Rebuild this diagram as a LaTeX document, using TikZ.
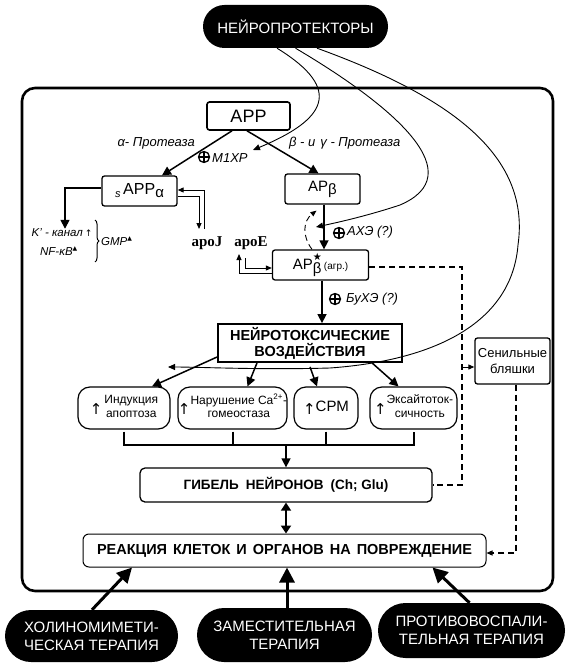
\documentclass[tikz,border=0pt]{standalone}
\usepackage{fontspec}
\setmainfont{Liberation Sans}
\newfontfamily\serifbf{Liberation Serif}
\newfontfamily\symf{DejaVu Sans}
\usetikzlibrary{arrows.meta,decorations.pathreplacing,calc}
\newcommand{\myup}{\raisebox{-3pt}{{\symf\fontsize{15}{15}\selectfont ↑}}}
\begin{document}
\begin{tikzpicture}[x=1pt,y=-1pt,
  every node/.style={inner sep=0pt},
  box/.style={draw,line width=1.3pt,rounded corners=2.5pt},
  rbox/.style={draw,line width=1.2pt,rounded corners=12pt,font=\fontsize{12}{13.5}\selectfont},
  pill/.style={fill=black,text=white,align=center,font=\fontsize{15}{18}\selectfont},
  arr/.style={line width=1.5pt,-{Triangle[length=9pt,width=9pt]}},
  tarr/.style={line width=1pt,-{Triangle[length=6pt,width=5pt]}},
  cur/.style={line width=0.9pt,-{Triangle[length=7pt,width=6pt]}},
  dline/.style={dash pattern=on 6pt off 4pt,line width=1.1pt},
  bigarr/.style={line width=3pt,-{Triangle[length=15pt,width=15pt]}},
  lab/.style={font=\itshape\fontsize{13}{14}\selectfont},
  slab/.style={font=\itshape\fontsize{11.5}{13}\selectfont},
  oplus/.style={circle,draw,line width=1.3pt,minimum size=11pt,inner sep=0pt,
    path picture={\draw[line width=1.3pt] (path picture bounding box.north) -- (path picture bounding box.south) (path picture bounding box.west) -- (path picture bounding box.east);}}
]
\useasboundingbox (0,0) rectangle (572,663);
\draw[line width=2.6pt,rounded corners=13pt] (22,88) rectangle (553,591);

% top pill
\node[pill,minimum width=185pt,minimum height=43pt,rounded corners=21.5pt] (np) at (295.5,26.5) {НЕЙРОПРОТЕКТОРЫ};

% boxes
\node[box,line width=1.6pt,minimum width=83pt,minimum height=28pt,font=\fontsize{18}{18}\selectfont] (app) at (248.5,116) {APP};
\node[box,minimum width=75pt,minimum height=30pt,font=\fontsize{16}{16}\selectfont] (sapp) at (139.5,191) {\raisebox{-3pt}{\fontsize{11}{11}\selectfont\itshape s}\,APP\raisebox{-3pt}{\fontsize{15}{15}\selectfont α}};
\node[box,minimum width=75pt,minimum height=30pt,font=\fontsize{15}{15}\selectfont] (apb) at (322.5,189) {AP\raisebox{-3pt}{β}};
\node[box,minimum width=96pt,minimum height=30pt,font=\fontsize{15}{15}\selectfont] (aps) at (320.5,265) {AP\rlap{\raisebox{9.5pt}{\symf\fontsize{10}{10}\selectfont ★}}\raisebox{-4pt}{β}\,{\fontsize{10}{10}\selectfont(агр.)}};
\node[draw,line width=1.8pt,minimum width=184pt,minimum height=38pt,align=center,font=\bfseries\fontsize{14.5}{16}\selectfont] (nt) at (310,343) {НЕЙРОТОКСИЧЕСКИЕ\\ВОЗДЕЙСТВИЯ};
\node[box,minimum width=75pt,minimum height=46pt,align=center,font=\fontsize{13}{16}\selectfont] (sen) at (512.5,361) {Сенильные\\бляшки};

\node[rbox,minimum width=92pt,minimum height=42pt] (ind) at (124,408) {\myup\,\begin{tabular}{@{}c@{}}Индукция\\апоптоза\end{tabular}};
\node[rbox,minimum width=109pt,minimum height=42pt] (nar) at (232.5,408) {\myup\begin{tabular}{@{}c@{}}Нарушение Ca\textsuperscript{2+}-\\гомеостаза\end{tabular}};
\node[rbox,minimum width=64pt,minimum height=42pt,font=\fontsize{15}{15}\selectfont] (srm) at (326,408) {\myup СРМ};
\node[rbox,minimum width=87pt,minimum height=42pt] (eks) at (413.5,408) {\myup\begin{tabular}{@{}c@{}}Эксайтоток-\\сичность\end{tabular}};

\node[box,rounded corners=5pt,minimum width=292pt,minimum height=34pt,font=\bfseries\fontsize{13.5}{14}\selectfont] (gib) at (286,485) {ГИБЕЛЬ\hspace{7pt}НЕЙРОНОВ\hspace{7pt}(Ch; Glu)};
\node[draw,line width=1pt,rounded corners=6pt,minimum width=403pt,minimum height=33pt,font=\bfseries\fontsize{14.5}{16}\selectfont] (reak) at (284.5,550.5) {РЕАКЦИЯ\hspace{6pt}КЛЕТОК\hspace{6pt}И\hspace{6pt}ОРГАНОВ\hspace{6pt}НА\hspace{6pt}ПОВРЕЖДЕНИЕ};

\node[pill,minimum width=173pt,minimum height=52pt,rounded corners=26pt] (p1) at (91.5,636) {ХОЛИНОМИМЕТИ-\\ЧЕСКАЯ ТЕРАПИЯ};
\node[pill,minimum width=175pt,minimum height=54pt,rounded corners=27pt] (p2) at (284.5,635) {ЗАМЕСТИТЕЛЬНАЯ\\ТЕРАПИЯ};
\node[pill,minimum width=187pt,minimum height=55pt,rounded corners=27.5pt] (p3) at (471.5,630.5) {ПРОТИВОВОСПАЛИ-\\ТЕЛЬНАЯ ТЕРАПИЯ};

% labels
\node[lab,anchor=east] (lalpha) at (195,143) {α- Протеаза};
\node[oplus] (op1) at (204,157) {};
\node[lab,anchor=west] (lm1) at (212,158) {М1ХР};
\node[lab,anchor=west] (lbeta) at (289,143) {β - и\hspace{5pt}γ - Протеаза};
\node[oplus] (op2) at (339,233) {};
\node[lab,anchor=west] (lax) at (347,232) {АХЭ (?)};
\node[oplus] (op3) at (335,299) {};
\node[lab,anchor=west] (lbu) at (346,299) {БуХЭ (?)};

\node[slab] (kk) at (62,233) {K' - канал\,{\symf\fontsize{9}{9}\selectfont ↑}};
\node[slab] (nf) at (59,251) {NF-κB\textsuperscript{\symf\fontsize{6}{6}\selectfont ▲}};
\draw[decorate,decoration={brace,amplitude=4pt},line width=1pt] (95,220) -- (95,262);
\node[slab,anchor=west] (gmp) at (101,241) {GMP\textsuperscript{\symf\fontsize{6}{6}\selectfont ▲}};

\node[font=\serifbf\bfseries\fontsize{15}{15}\selectfont] (apoj) at (207,243) {apoJ};
\node[font=\serifbf\bfseries\fontsize{15}{15}\selectfont] (apoe) at (251,243) {apoE};

% coordinates
\coordinate (jA) at (204,229);
\coordinate (jB) at (199,229);
\coordinate (eA) at (239,254);
\coordinate (eB) at (245,258);
\coordinate (m1tip) at (253,150);
\coordinate (axtip) at (316,227);
\coordinate (nttip) at (168,367);
\coordinate (dv) at (462,0);
\coordinate (bk) at (0,445);
\coordinate (senin) at ([yshift=-6pt]sen.west);

% main arrows
\draw[arr] ([xshift=-16.5pt]app.south) -- ([xshift=22.5pt]sapp.north);
\draw[arr] ([xshift=-1.5pt]app.south) -- ([xshift=-4pt]apb.north);
\draw[arr] ([yshift=3pt]sapp.west) -| ([xshift=3pt]kk.north);
\draw[tarr] (jA) |- ([yshift=1pt]sapp.east);
\draw[tarr] ([yshift=-5pt]sapp.east) -| (jB);
\draw[tarr] ([yshift=-8pt]aps.west) -| (eA);
\draw[tarr] (eB) |- ([yshift=-3pt]aps.west);
\draw[arr] ([xshift=1.5pt]apb.south) -- ([xshift=3.5pt]aps.north);
\draw[dline,line width=0.9pt,-{Triangle[length=6pt,width=5pt]}] ([xshift=-8.5pt]aps.north) .. controls (302,236) and (303,221) .. ([xshift=-6pt,yshift=-6pt]apb.south);
\draw[arr] ([xshift=1.5pt]aps.south) -- ([xshift=12pt]nt.north);

% dashed
\draw[dline] ([yshift=-2pt]aps.east) -| (dv |- gib.east) -- (gib.east);
\draw[tarr] (dv |- senin) -- (senin);
\draw[dline,-{Triangle[length=6pt,width=5pt]}] ([xshift=3.5pt]sen.south) |- ([yshift=-2.5pt]reak.east);

% curves from neuroprotectors
\draw[cur] ([xshift=-18.5pt]np.south) .. controls (345,90) and (325,120) .. (m1tip);
\draw[cur] (np.south) .. controls (400,110) and (470,175) .. (400,205) .. controls (370,215) and (340,222) .. (axtip);
\draw[cur] ([xshift=21.5pt]np.south) .. controls (460,100) and (530,160) .. (518,245) .. controls (512,320) and (440,360) .. (330,368) .. controls (260,370) and (200,367) .. (nttip);

% neurotoxic effects
\draw[arr] ([yshift=-14pt]nt.west) -- ([xshift=28pt]ind.north);
\draw[arr] ([xshift=-53pt]nt.south) -- ([xshift=15pt]nar.north);
\draw[arr] ([yshift=-4pt]nt.south) -- ([xshift=-9pt]srm.north);
\draw[arr] ([xshift=62pt]nt.south) -- ([xshift=-15pt]eks.north);

% bracket
\draw[line width=2pt] ([yshift=-2pt]ind.south) -- (ind.south |- bk) -- (eks.south |- bk) -- ([yshift=-2pt]eks.south);
\draw[line width=2pt] ([yshift=-2pt]nar.south) -- (nar.south |- bk);
\draw[line width=2pt] ([yshift=-2pt]srm.south) -- (srm.south |- bk);
\draw[arr] (gib.north |- bk) -- (gib.north);

\draw[line width=1.8pt,{Triangle[length=8pt,width=10pt]}-{Triangle[length=8pt,width=10pt]}] (gib.south) -- (gib.south |- reak.north);

% therapy arrows
\draw[bigarr] ([xshift=0.5pt]p1.north) -- ([xshift=-152.5pt]reak.south);
\draw[bigarr] ([xshift=2.5pt]p2.north) -- ([xshift=2.5pt]reak.south);
\draw[bigarr] ([xshift=-2pt]p3.north) -- ([xshift=148pt]reak.south);
\end{tikzpicture}
\end{document}
